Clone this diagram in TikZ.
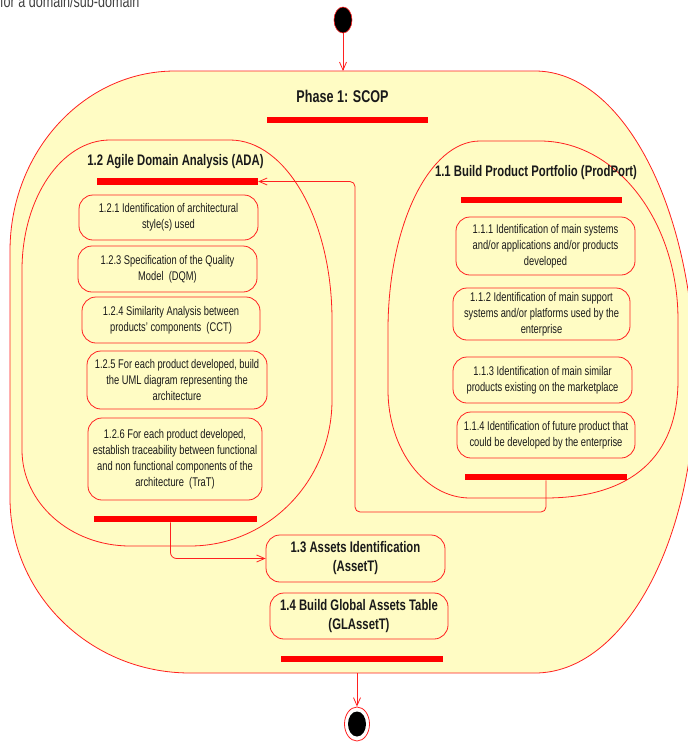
\documentclass[tikz,border=0pt]{standalone}
\usepackage{fontspec}
\setmainfont{Liberation Sans}[FakeStretch=0.74]
\usetikzlibrary{arrows.meta,shapes.geometric}
\definecolor{actfill}{HTML}{FFFCC4}
\definecolor{actline}{HTML}{FF2020}
\definecolor{inktext}{HTML}{1A1A1A}

\begin{document}
\begin{tikzpicture}[x=1pt,y=-1pt,
  region/.style={draw=actline, fill=actfill, line width=0.8pt},
  act/.style={draw=actline, fill=actfill, line width=0.8pt, rounded corners=14pt,
    align=center, inner sep=0pt, text=inktext, font=\fontsize{12.6}{16}\selectfont},
  bigact/.style={act, font=\fontsize{15.3}{19}\selectfont\bfseries},
  heading/.style={inner sep=0pt, text=inktext, font=\fontsize{15.3}{19}\selectfont\bfseries},
  syncbar/.style={fill=red, draw=none, inner sep=0pt, minimum height=6.5pt},
  flow/.style={draw=actline, line width=0.8pt, -{Straight Barb[length=8pt,width=7pt]}},
]
\path[use as bounding box, clip] (0,0) rectangle (688,742);

% caption line above the diagram
\node[anchor=base west, inner sep=0pt, text=black!75, font=\fontsize{17}{20}\selectfont]
  (caption) at (0,7) {for a domain/sub-domain};

% Phase 1 activity region
\path[region] (175,71) -- (535,71)
  .. controls (623.4,71) and (695,209.8) .. (695,381)
  .. controls (695,542.3) and (623.4,673) .. (535,673)
  -- (190,673)
  .. controls (90.6,673) and (10,594.7) .. (10,498)
  -- (10,251)
  .. controls (10,151.6) and (83.9,71) .. (175,71) -- cycle;
\coordinate (phTop) at (343,71);
\coordinate (phBot) at (357,673);

\node[inner sep=0pt, text=inktext, font=\fontsize{17}{20}\selectfont\bfseries]
  (phtitle) at (342.5,96) {Phase 1: SCOP};
\node[syncbar, minimum width=161pt] (phbar) at (347.5,120) {};

% 1.2 Agile Domain Analysis region
\path[region] (22,270)
  .. controls (22,198.2) and (61.4,140) .. (110,140)
  -- (230,140)
  .. controls (286.3,140) and (332,220.6) .. (332,320)
  -- (332,400)
  .. controls (332,480.6) and (268.4,546) .. (190,546)
  -- (130,546)
  .. controls (70.4,546) and (22,503) .. (22,450)
  -- cycle;

% 1.1 Build Product Portfolio region
\path[region] (388,330)
  .. controls (388,225.6) and (429.2,141) .. (480,141)
  -- (540,141)
  .. controls (616.2,141) and (678,221.1) .. (678,320)
  -- (678,380)
  .. controls (678,456.7) and (631.5,498) .. (545,498)
  -- (470,498)
  .. controls (424.7,498) and (388,449.1) .. (388,390)
  -- cycle;

% ADA contents
\node[heading] (adatitle) at (175.5,162) {1.2 Agile Domain Analysis (ADA)};
\node[syncbar, minimum width=161pt] (abar) at (177.5,181.5) {};
\node[act, minimum width=179pt, minimum height=45pt] (a121) at (168.5,217.5)
  {1.2.1 Identification of architectural\\style(s) used};
\node[act, minimum width=179pt, minimum height=46pt] (a123) at (167.5,269)
  {1.2.3 Specification of the Quality\\Model~~(DQM)};
\node[act, minimum width=178pt, minimum height=46pt] (a124) at (171,320)
  {1.2.4 Similarity Analysis between\\products' components~~(CCT)};
\node[act, minimum width=180pt, minimum height=58pt] (a125) at (177,380)
  {1.2.5 For each product developed, build\\the UML diagram representing the\\architecture};
\node[act, minimum width=174pt, minimum height=82pt] (a126) at (175,459)
  {1.2.6 For each product developed,\\establish traceability between functional\\and non functional components of the\\architecture~~(TraT)};
\node[syncbar, minimum width=163pt] (abarend) at (175.5,519) {};

% ProdPort contents
\node[heading] (pptitle) at (536,173) {1.1 Build Product Portfolio (ProdPort)};
\node[syncbar, minimum width=161pt] (pbar) at (541.5,200) {};
\node[act, minimum width=179pt, minimum height=58pt] (p111) at (545.5,246)
  {1.1.1 Identification of main systems\\and/or applications and/or products\\developed};
\node[act, minimum width=177pt, minimum height=52pt] (p112) at (541.5,314)
  {1.1.2 Identification of main support\\systems and/or platforms used by the\\enterprise};
\node[act, minimum width=179pt, minimum height=46pt] (p113) at (542.5,380)
  {1.1.3 Identification of main similar\\products existing on the marketplace};
\node[act, minimum width=178pt, minimum height=46pt] (p114) at (546,435)
  {1.1.4 Identification of future product that\\could be developed by the enterprise};
\node[syncbar, minimum width=162pt] (pbarend) at (546,477) {};

% assets activities
\node[bigact, minimum width=179pt, minimum height=47pt] (a13) at (355.5,558.5)
  {1.3 Assets Identification\\(AssetT)};
\node[bigact, minimum width=178pt, minimum height=46pt] (a14) at (359,616)
  {1.4 Build Global Assets Table\\(GLAssetT)};
\node[syncbar, minimum width=162pt] (phbarend) at (362,659) {};

% initial and final nodes
\node[ellipse, fill=black, draw=actline, line width=0.6pt, inner sep=0pt,
  minimum width=18pt, minimum height=26pt] (init) at (343,20) {};
\node[ellipse, draw=actline, fill=white, line width=0.8pt, inner sep=0pt,
  minimum width=25pt, minimum height=34pt] (final) at (357,724) {};
\fill[black] (final.center) ellipse [x radius=9, y radius=12.5];

% control flows
\coordinate (bendA) at (355,512);
\draw[flow] (init.south) -- (phTop);
\draw[flow, rounded corners=5pt] (pbarend.south) |- (bendA) |- (abar.east);
\draw[flow, rounded corners=6pt] ([xshift=-5pt]abarend.south) |- (a13.west);
\draw[flow] (phBot) -- (final.north);
\end{tikzpicture}
\end{document}
